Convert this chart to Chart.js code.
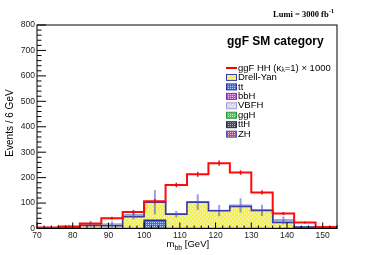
<!DOCTYPE html>
<html>
<head>
<meta charset="utf-8">
<script src="https://cdn.jsdelivr.net/npm/chart.js@4.4.0/dist/chart.umd.min.js"></script>
<style>
  html, body { margin: 0; padding: 0; background: #fff; }
  canvas { display: block; }
</style>
</head>
<body>
<canvas id="mbbChart" width="374" height="255"></canvas>
<script>
// bin edges in GeV (6 GeV bins)
const binEdges = [70, 76, 82, 88, 94, 100, 106, 112, 118, 124, 130, 136, 142, 148, 154];
const xTickValues = [70, 80, 90, 100, 110, 120, 130, 140, 150];
const yTickValues = [0, 100, 200, 300, 400, 500, 600, 700, 800];

// signal, scaled x1000
const signalHH  = [4, 8, 20, 40, 65, 107, 171, 213, 257, 220, 142, 59, 24, 6];
const signalErr = [2, 3, 4, 6, 8, 9, 9, 10, 10, 9, 8, 6, 4, 2];

// backgrounds (stacked, bottom first)
const ttbar    = [0, 0, 0, 0, 0, 32, 0, 0, 0, 0, 0, 0, 0, 0];
const drellYan = [2, 4, 12, 11, 46, 71, 56, 103, 70, 86, 71, 24, 5, 2];
const bbH      = [0, 0, 0, 0, 0, 0, 0, 0, 0, 0, 0, 0, 0, 0];
const vbfH     = [0, 0, 6, 5, 6, 0, 0, 0, 0, 4, 0, 8, 0, 0];
const ggH      = [0, 0, 0, 0, 0, 0.5, 0.5, 0.5, 0.5, 0.5, 0.5, 0, 0, 0];
const ttH      = [0, 0, 0, 0, 0, 0, 0, 0, 0, 0, 0, 0, 0, 0];
const zH       = [0, 0, 0, 0, 0, 0, 0, 0, 0, 0, 0, 0, 0, 0];
const bkgErr   = [6, 10, 12, 12, 16, 48, 13, 31, 22, 28, 22, 15, 4, 3];

const bkgTotal = ttbar.map((v, i) => v + drellYan[i] + bbH[i] + vbfH[i] + ggH[i] + ttH[i] + zH[i]);

const SANS = "'Liberation Sans', Arial, sans-serif";
const SERIF = "'Liberation Serif', 'Times New Roman', serif";

function dotPattern(bg, dot, size, dots) {
  const c = document.createElement('canvas');
  c.width = size;
  c.height = size;
  const g = c.getContext('2d');
  g.fillStyle = bg;
  g.fillRect(0, 0, size, size);
  g.fillStyle = dot;
  dots.forEach(([px, py]) => g.fillRect(px, py, 1, 1));
  return g.createPattern(c, 'repeat');
}

const grid2 = [[0, 0], [2, 0], [0, 2], [2, 2]];
const sparse = [[0, 0], [2, 2]];

const fills = {
  dy:   dotPattern('#f8f43c', '#fdfbc4', 4, sparse),
  tt:   dotPattern('#3a72e2', '#b4cdfc', 4, grid2),
  bbH:  dotPattern('#d93ee0', '#f2b8f5', 4, grid2),
  vbfH: dotPattern('#dadae6', '#f2f2f6', 4, sparse),
  ggH:  dotPattern('#38d64a', '#b8f2bf', 4, grid2),
  ttH:  dotPattern('#4a4a5a', '#b0b0b8', 4, grid2),
  zH:   dotPattern('#e0405c', '#f7bcc6', 4, grid2)
};

function histData(vals) {
  const pts = vals.map((v, i) => ({ x: binEdges[i], y: v }));
  pts.push({ x: binEdges[vals.length], y: 0 });
  return pts;
}

function stackLayer(label, vals, fill, border, width, fillTo) {
  return {
    label: label,
    data: histData(vals),
    stepped: true,
    fill: fillTo,
    backgroundColor: fill,
    borderColor: border,
    borderWidth: width,
    pointRadius: 0
  };
}

const legendItems = [
  { text: 'Drell-Yan', fill: fills.dy,   border: '#3a3aa8' },
  { text: 'tt',        fill: fills.tt,   border: '#2838a8' },
  { text: 'bbH',       fill: fills.bbH,  border: '#8a2aa8' },
  { text: 'VBFH',      fill: fills.vbfH, border: '#a0a0d8' },
  { text: 'ggH',       fill: fills.ggH,  border: '#2a9a3a' },
  { text: 'ttH',       fill: fills.ttH,  border: '#2a2a40' },
  { text: 'ZH',        fill: fills.zH,   border: '#5050b0' }
];

function drawErrors(chart, centersVals, errs, color, width) {
  const { ctx, scales: { x, y } } = chart;
  ctx.save();
  ctx.strokeStyle = color;
  ctx.lineWidth = width;
  centersVals.forEach((v, i) => {
    const xc = x.getPixelForValue((binEdges[i] + binEdges[i + 1]) / 2);
    ctx.beginPath();
    ctx.moveTo(xc, y.getPixelForValue(Math.max(0, v - errs[i])));
    ctx.lineTo(xc, y.getPixelForValue(v + errs[i]));
    ctx.stroke();
  });
  ctx.restore();
}

const decorations = {
  id: 'decorations',
  afterDatasetsDraw(chart) {
    drawErrors(chart, bkgTotal, bkgErr, 'rgba(70, 80, 210, 0.55)', 2);
    drawErrors(chart, signalHH, signalErr, 'rgba(235, 0, 0, 0.9)', 1.5);
  },
  afterDraw(chart) {
    const { ctx, chartArea: a, scales: { x, y } } = chart;
    ctx.save();

    // frame
    ctx.strokeStyle = '#000';
    ctx.lineWidth = 1;
    ctx.strokeRect(a.left, a.top, a.right - a.left, a.bottom - a.top);

    // inner ticks, ROOT style
    ctx.beginPath();
    for (let v = 0; v <= 800; v += 20) {
      const py = y.getPixelForValue(v);
      const len = v % 100 === 0 ? 9 : 4.5;
      ctx.moveTo(a.left, py);
      ctx.lineTo(a.left + len, py);
    }
    for (let v = 70; v <= 154; v += 2) {
      const px = x.getPixelForValue(v);
      const len = v % 10 === 0 ? 6 : 3;
      ctx.moveTo(px, a.bottom);
      ctx.lineTo(px, a.bottom - len);
    }
    ctx.stroke();

    ctx.fillStyle = '#000';

    // axis titles
    ctx.font = '9.5px ' + SANS;
    ctx.textBaseline = 'alphabetic';
    ctx.textAlign = 'left';
    let tx = 166.5;
    ctx.fillText('m', tx, 247);
    tx += ctx.measureText('m').width;
    ctx.font = '7px ' + SANS;
    ctx.fillText('bb', tx, 249.5);
    tx += ctx.measureText('bb').width;
    ctx.font = '9.5px ' + SANS;
    ctx.fillText(' [GeV]', tx, 247);

    ctx.save();
    ctx.translate(13, 123);
    ctx.rotate(-Math.PI / 2);
    ctx.font = '10px ' + SANS;
    ctx.textAlign = 'center';
    ctx.fillText('Events / 6 GeV', 0, 0);
    ctx.restore();

    // luminosity
    ctx.font = 'bold 8.5px ' + SERIF;
    ctx.textAlign = 'left';
    ctx.fillText('Lumi = 3000 fb', 273, 17);
    const lw = ctx.measureText('Lumi = 3000 fb').width;
    ctx.font = 'bold 6px ' + SERIF;
    ctx.fillText('-1', 273 + lw + 0.5, 13);

    // category title
    ctx.font = 'bold 12px ' + SANS;
    ctx.fillText('ggF SM category', 227, 45);

    // legend
    const rowY = 68;
    const step = 9.45;
    ctx.font = '9.5px ' + SANS;
    ctx.textBaseline = 'middle';
    ctx.strokeStyle = '#ff0000';
    ctx.lineWidth = 2;
    ctx.beginPath();
    ctx.moveTo(226, rowY);
    ctx.lineTo(237, rowY);
    ctx.stroke();
    let lx = 238;
    ctx.fillText('ggF HH (\u03ba', lx, rowY);
    lx += ctx.measureText('ggF HH (\u03ba').width;
    ctx.font = '7px ' + SANS;
    ctx.fillText('\u03bb', lx, rowY + 2.5);
    lx += ctx.measureText('\u03bb').width;
    ctx.font = '9.5px ' + SANS;
    ctx.fillText('=1) \u00d7 1000', lx, rowY);

    legendItems.forEach((item, i) => {
      const cy = rowY + step * (i + 1);
      ctx.fillStyle = item.fill;
      ctx.fillRect(226.5, cy - 3, 10, 6);
      ctx.strokeStyle = item.border;
      ctx.lineWidth = 1;
      ctx.strokeRect(226.5, cy - 3, 10, 6);
      ctx.fillStyle = '#000';
      ctx.fillText(item.text, 238, cy);
    });

    ctx.restore();
  }
};

const mbbChart = new Chart(document.getElementById('mbbChart'), {
  type: 'line',
  data: {
    datasets: [
      {
        label: 'ggF HH',
        data: histData(signalHH),
        stack: 'signal',
        stepped: true,
        fill: false,
        borderColor: '#ff0a0a',
        borderWidth: 2,
        pointRadius: 0
      },
      stackLayer('tt', ttbar, fills.tt, '#2030a0', 1.5, 'origin'),
      stackLayer('Drell-Yan', drellYan, fills.dy, '#3a3aa8', 1.5, '-1'),
      stackLayer('bbH', bbH, fills.bbH, '#8a2aa8', 1, '-1'),
      stackLayer('VBFH', vbfH, fills.vbfH, '#a4a4d4', 2, '-1'),
      stackLayer('ggH', ggH, fills.ggH, '#2a9a3a', 1, '-1'),
      stackLayer('ttH', ttH, fills.ttH, '#2a2a40', 1, '-1'),
      stackLayer('ZH', zH, fills.zH, '#5050b0', 1, '-1')
    ]
  },
  options: {
    responsive: false,
    animation: false,
    layout: { padding: { top: 25, right: 37, left: 0, bottom: 0 } },
    plugins: {
      legend: { display: false },
      tooltip: { enabled: false }
    },
    scales: {
      x: {
        type: 'linear',
        min: 70,
        max: 154,
        grid: { display: false, drawTicks: false },
        border: { display: false },
        afterBuildTicks: s => { s.ticks = xTickValues.map(v => ({ value: v })); },
        afterFit: s => { s.height = 26.5; },
        ticks: {
          font: { family: SANS, size: 8.5 },
          color: '#222',
          padding: 2.5,
          maxRotation: 0,
          autoSkip: false
        }
      },
      y: {
        stacked: true,
        min: 0,
        max: 800,
        grid: { display: false, drawTicks: false },
        border: { display: false },
        afterBuildTicks: s => { s.ticks = yTickValues.map(v => ({ value: v })); },
        afterFit: s => { s.width = 37; },
        ticks: {
          font: { family: SANS, size: 8.5 },
          color: '#222',
          padding: 2
        }
      }
    }
  },
  plugins: [decorations]
});
</script>
</body>
</html>
